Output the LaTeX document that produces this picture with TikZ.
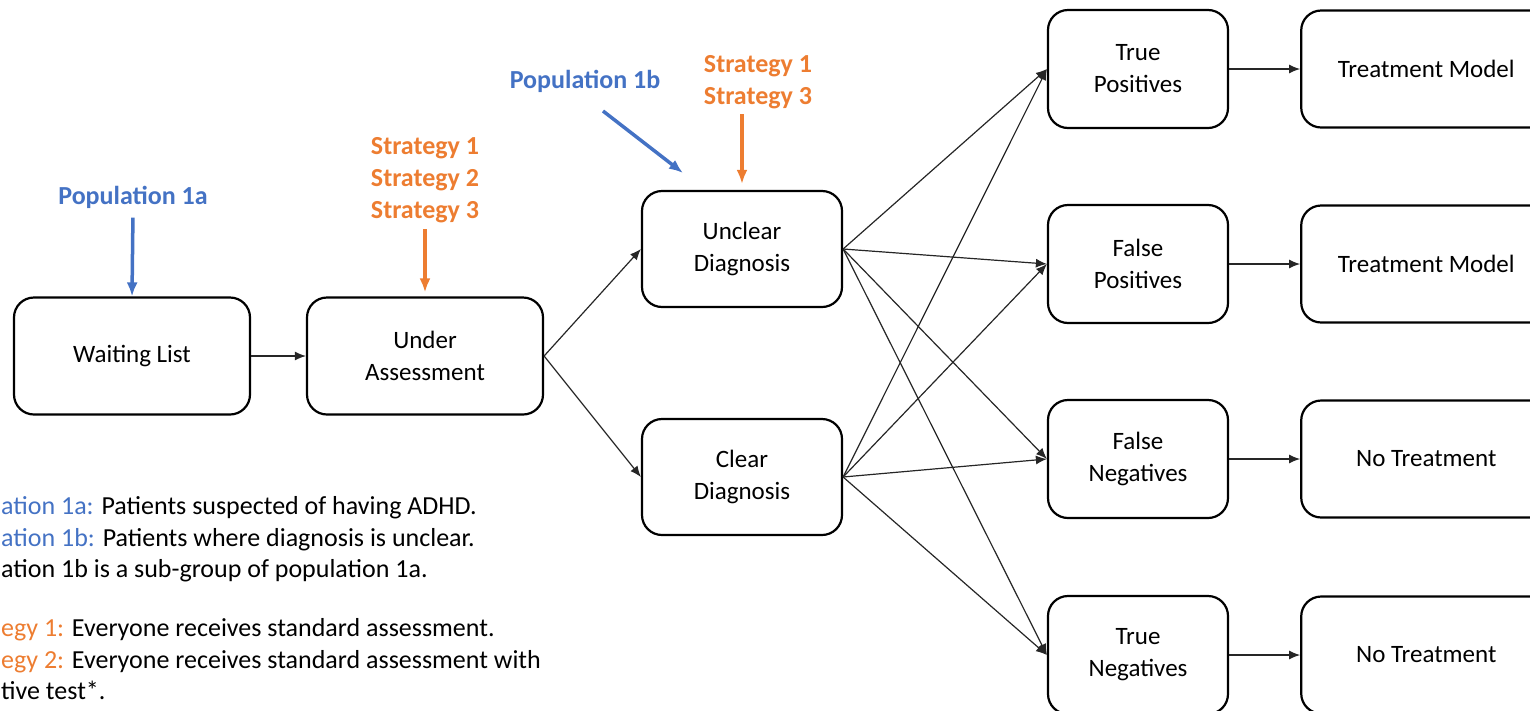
\documentclass[tikz,border=0pt]{standalone}
\usepackage{fontspec}
\setmainfont{Carlito}
\usetikzlibrary{positioning,arrows.meta}
\definecolor{popblue}{HTML}{4472C4}
\definecolor{stratorange}{HTML}{ED7D31}

\begin{document}
\begin{tikzpicture}[x=1pt,y=-1pt,
    font=\fontsize{25}{32}\selectfont,
    box/.style={draw,line width=2.2pt,rounded corners=20pt,align=center,inner sep=0pt},
    stagebox/.style={box,minimum width=236pt,minimum height=117pt},
    treatbox/.style={box,minimum width=250pt,minimum height=117pt},
    diagbox/.style={box,minimum width=200pt,minimum height=116pt},
    outbox/.style={box,minimum width=180pt,minimum height=118pt},
    link/.style={-{Latex[length=11pt,width=9pt]},line width=1.2pt,black!85},
    poplabel/.style={text=popblue,font=\fontsize{26}{32}\selectfont\bfseries},
    stratlabel/.style={text=stratorange,font=\fontsize{26}{32}\selectfont\bfseries,align=center},
    poparrow/.style={-{Latex[length=14pt,width=11pt]},line width=3.5pt,popblue},
    stratarrow/.style={-{Latex[length=14pt,width=11pt]},line width=3.5pt,stratorange},
    note/.style={anchor=base west,inner sep=0pt,font=\fontsize{26}{32}\selectfont}]
    \useasboundingbox (0,0) rectangle (1530,710);
    \clip (0,0) rectangle (1530,710);
    %%%%% THE STAGES
    \node[stagebox] (WAIT) at (132,356) {Waiting List};
    \node[stagebox] (ASSESS) at (425,356) {Under\\Assessment};
    \node[diagbox] (UNCLEAR) at (742,249) {Unclear\\Diagnosis};
    \node[diagbox] (CLEAR) at (742,477) {Clear\\Diagnosis};
    %%%%% THE OUTCOMES
    \node[outbox] (TP) at (1138,69) {True\\Positives};
    \node[outbox] (FP) at (1138,264) {False\\Positives};
    \node[outbox] (FN) at (1138,459) {False\\Negatives};
    \node[outbox] (TN) at (1138,655) {True\\Negatives};
    \node[treatbox,right=71pt of TP] (TM1) {Treatment Model};
    \node[treatbox,right=71pt of FP] (TM2) {Treatment Model};
    \node[treatbox,right=71pt of FN] (NT1) {No Treatment};
    \node[treatbox,right=71pt of TN] (NT2) {No Treatment};
    %%%%% POPULATIONS AND STRATEGIES
    \node[poplabel] (POP1A) at (133,197) {Population 1a};
    \node[poplabel] (POP1B) at (585,81) {Population 1b};
    \node[stratlabel] (STRAT123) at (425,180) {Strategy 1\\Strategy 2\\Strategy 3};
    \node[stratlabel] (STRAT13) at (758,82) {Strategy 1\\Strategy 3};
    \coordinate (P1BTAIL) at (603,111);
    \coordinate (P1BTIP) at (683,173);
    \draw[poparrow,shorten <=6pt] (POP1A.south) -- (WAIT.north);
    \draw[poparrow] (P1BTAIL) -- (P1BTIP);
    \draw[stratarrow,shorten <=3pt,shorten >=4pt] (STRAT123.south) -- (ASSESS.north);
    \draw[stratarrow,shorten <=2pt,shorten >=6pt] (STRAT13.south -| UNCLEAR.north) -- (UNCLEAR.north);
    %%%% LINKS BETWEEN THE BOXES
    \draw[link] (WAIT.east) -- (ASSESS.west);
    \draw[link] (ASSESS.east) -- (UNCLEAR.west);
    \draw[link] (ASSESS.east) -- (CLEAR.west);
    \foreach \src in {UNCLEAR,CLEAR}
      \foreach \dst in {TP,FP,FN,TN}
        \draw[link] (\src.east) -- (\dst.west);
    \draw[link] (TP.east) -- (TM1.west);
    \draw[link] (FP.east) -- (TM2.west);
    \draw[link] (FN.east) -- (NT1.west);
    \draw[link] (TN.east) -- (NT2.west);
    %%%% THE NOTES
    \node[note] (NOTE1) at (1,514) {\textcolor{popblue}{ation 1a:} Patients suspected of having ADHD.};
    \node[note] (NOTE2) at (1,546) {\textcolor{popblue}{ation 1b:} Patients where diagnosis is unclear.};
    \node[note] (NOTE3) at (1,577) {ation 1b is a sub-group of population 1a.};
    \node[note] (NOTE4) at (1,636) {\textcolor{stratorange}{egy 1:} Everyone receives standard assessment.};
    \node[note] (NOTE5) at (1,668) {\textcolor{stratorange}{egy 2:} Everyone receives standard assessment with};
    \node[note] (NOTE6) at (1,699) {tive test*.};
\end{tikzpicture}
\end{document}
